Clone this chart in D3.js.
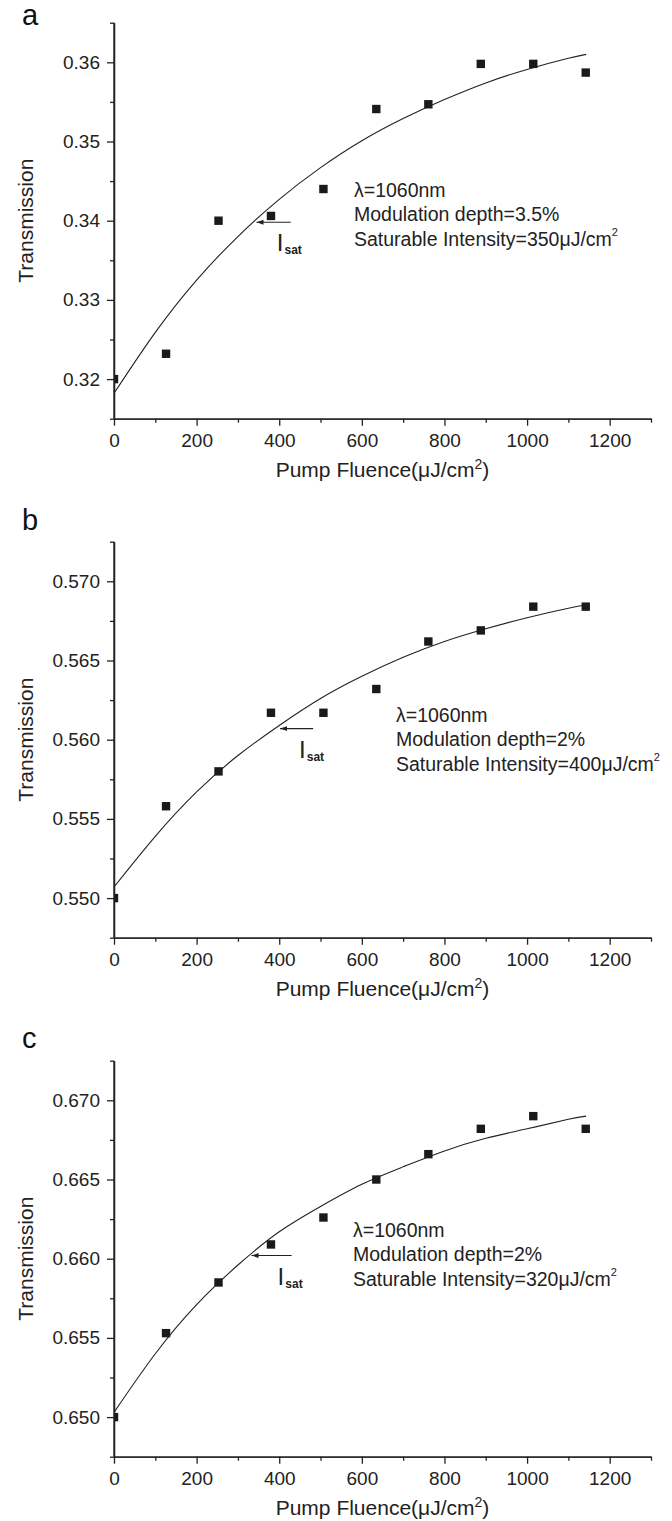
<!DOCTYPE html>
<html>
<head>
<meta charset="utf-8">
<script src="https://cdn.jsdelivr.net/npm/d3@7"></script>
<style>
  body { margin: 0; background: #fff; }
  svg { display: block; font-family: "Liberation Sans", Arial, sans-serif; }
</style>
</head>
<body>
<svg id="chart" width="672" height="1521"></svg>
<script>
// measured points (pump fluence, uJ/cm^2)
const fluence = [0, 126, 253, 380, 507, 635, 761, 888, 1015, 1142];
const transA = [0.3200, 0.3232, 0.3400, 0.3406, 0.3440, 0.3541, 0.3547, 0.3598, 0.3598, 0.3587];
const transB = [0.5500, 0.5558, 0.5580, 0.5617, 0.5617, 0.5632, 0.5662, 0.5669, 0.5684, 0.5684];
const transC = [0.6500, 0.6553, 0.6585, 0.6609, 0.6626, 0.6650, 0.6666, 0.6682, 0.6690, 0.6682];

// fitted curves
const fitX = [0, 100, 200, 300, 400, 500, 600, 700, 800, 900, 1000, 1100, 1143];
const fitA = [0.3182, 0.3259, 0.3325, 0.3380, 0.3427, 0.3467, 0.3501, 0.3529, 0.3553, 0.3574, 0.3591, 0.3605, 0.3610];
const fitB = [0.5507, 0.5539, 0.5567, 0.5590, 0.5609, 0.5626, 0.5640, 0.5652, 0.5662, 0.5670, 0.5677, 0.5683, 0.5685];
const fitC = [0.6503, 0.6540, 0.6571, 0.6596, 0.6617, 0.6633, 0.6647, 0.6658, 0.6668, 0.6676, 0.6682, 0.6688, 0.6690];

const panelNames = ["a", "b", "c"];
const yDomains = [[0.315, 0.365], [0.5475, 0.5725], [0.6475, 0.6725]];
const yMajor = [
  [0.32, 0.33, 0.34, 0.35, 0.36],
  [0.550, 0.555, 0.560, 0.565, 0.570],
  [0.650, 0.655, 0.660, 0.665, 0.670]
];
const yMinor = [
  [0.315, 0.325, 0.335, 0.345, 0.355, 0.365],
  [0.5475, 0.5525, 0.5575, 0.5625, 0.5675, 0.5725],
  [0.6475, 0.6525, 0.6575, 0.6625, 0.6675, 0.6725]
];
const yFormats = [".2f", ".3f", ".3f"];
const xMajor = [0, 200, 400, 600, 800, 1000, 1200];
const xMinor = [100, 300, 500, 700, 900, 1100, 1300];

const wavelength = ["1060nm", "1060nm", "1060nm"];
const modDepth = ["3.5%", "2%", "2%"];
const satIntensity = ["350", "400", "320"];

// I_sat arrows (fluence of tip / tail, transmission level)
const arrowTip = [345, 402, 333];
const arrowTail = [428, 482, 430];
const arrowLevel = [0.3398, 0.5607, 0.6602];

const panels = [
  { dots: transA, fit: fitA },
  { dots: transB, fit: fitB },
  { dots: transC, fit: fitC }
];

// layout
const left = 114, right = 651, plotH = 396;
const tops = [22.7, 541.7, 1060.7];
const letterY = [25, 530, 1048];
const legendX = [354, 396, 353];
const legendY = [174, 180, 176];

const svg = d3.select("#chart");
const ink = "#222";

const x = d3.scaleLinear().domain([0, 1300]).range([left, right]);

svg.append("defs").append("marker")
  .attr("id", "head")
  .attr("markerUnits", "userSpaceOnUse")
  .attr("markerWidth", 8).attr("markerHeight", 6)
  .attr("refX", 7).attr("refY", 3)
  .attr("orient", "auto")
  .append("path")
  .attr("d", "M0,0.5L7,3L0,5.5Z")
  .attr("fill", ink);

panels.forEach((p, i) => {
  const top = tops[i];
  const bottom = top + plotH;
  const y = d3.scaleLinear().domain(yDomains[i]).range([bottom, top]);
  const g = svg.append("g");

  g.append("clipPath").attr("id", "clip" + i)
    .append("rect")
    .attr("x", left).attr("y", top - 6)
    .attr("width", right - left).attr("height", plotH + 6);

  // minor ticks
  g.append("g")
    .attr("transform", `translate(0,${bottom})`)
    .call(d3.axisBottom(x).tickValues(xMinor).tickSize(4).tickSizeOuter(0).tickFormat(""));
  g.append("g")
    .attr("transform", `translate(${left},0)`)
    .call(d3.axisLeft(y).tickValues(yMinor[i]).tickSize(4).tickSizeOuter(0).tickFormat(""));

  // major ticks + labels
  g.append("g")
    .attr("transform", `translate(0,${bottom})`)
    .call(d3.axisBottom(x).tickValues(xMajor).tickSize(7).tickSizeOuter(0).tickPadding(7.5).tickFormat(d3.format("d")));
  g.append("g")
    .attr("transform", `translate(${left},0)`)
    .call(d3.axisLeft(y).tickValues(yMajor[i]).tickSize(7).tickSizeOuter(0).tickPadding(7).tickFormat(d3.format(yFormats[i])));

  g.selectAll(".domain, .tick line").attr("stroke", ink).attr("stroke-width", 1.3);
  g.selectAll(".tick text")
    .attr("fill", ink)
    .style("font-size", "19px")
    .style("font-family", "'Liberation Sans', Arial, sans-serif");

  // fitted curve
  g.append("path")
    .datum(fitX.map((f, k) => [f, p.fit[k]]))
    .attr("fill", "none")
    .attr("stroke", ink)
    .attr("stroke-width", 1.1)
    .attr("clip-path", `url(#clip${i})`)
    .attr("d", d3.line().x(d => x(d[0])).y(d => y(d[1])).curve(d3.curveNatural));

  // measured points
  g.append("g").attr("clip-path", `url(#clip${i})`)
    .selectAll("rect")
    .data(fluence.map((f, k) => [f, p.dots[k]]))
    .join("rect")
    .attr("x", d => x(d[0]) - 4.2)
    .attr("y", d => y(d[1]) - 4.2)
    .attr("width", 8.4).attr("height", 8.4)
    .attr("fill", "#1a1a1a");

  // redraw y axis line above the clipped markers
  g.append("line")
    .attr("x1", left).attr("x2", left)
    .attr("y1", top).attr("y2", bottom)
    .attr("stroke", ink).attr("stroke-width", 1.3);

  // I_sat arrow
  const ay = y(arrowLevel[i]);
  const tailX = x(arrowTail[i]);
  g.append("line")
    .attr("x1", tailX).attr("y1", ay)
    .attr("x2", x(arrowTip[i])).attr("y2", ay)
    .attr("stroke", ink).attr("stroke-width", 1.1)
    .attr("marker-end", "url(#head)");
  const isat = g.append("text")
    .attr("x", tailX - 14)
    .attr("y", ay + 29)
    .attr("fill", ink)
    .style("font-size", "24px")
    .text("I");
  isat.append("tspan")
    .attr("dy", 3)
    .attr("dx", 1)
    .style("font-size", "12px")
    .style("font-weight", "bold")
    .text("sat");

  // legend text
  const lx = legendX[i], ly = top + legendY[i];
  const leg = g.append("g").attr("fill", ink).style("font-size", "19.5px");
  leg.append("text").attr("x", lx).attr("y", ly).text("λ=" + wavelength[i]);
  leg.append("text").attr("x", lx).attr("y", ly + 24.5).text("Modulation depth=" + modDepth[i]);
  const sat = leg.append("text").attr("x", lx).attr("y", ly + 49.5)
    .text("Saturable Intensity=" + satIntensity[i] + "μJ/cm");
  sat.append("tspan").attr("dy", -10).style("font-size", "11px").text("2");

  // axis titles
  const xt = g.append("text")
    .attr("x", (left + right) / 2)
    .attr("y", bottom + 58)
    .attr("text-anchor", "middle")
    .attr("fill", ink)
    .style("font-size", "21px")
    .text("Pump Fluence(μJ/cm");
  xt.append("tspan").attr("dy", -8).style("font-size", "14px").text("2");
  xt.append("tspan").attr("dy", 8).text(")");

  g.append("text")
    .attr("transform", `translate(33,${(top + bottom) / 2}) rotate(-90)`)
    .attr("text-anchor", "middle")
    .attr("fill", ink)
    .style("font-size", "21px")
    .text("Transmission");

  // panel letter
  g.append("text")
    .attr("x", 22)
    .attr("y", letterY[i])
    .attr("fill", "#111")
    .style("font-size", "29px")
    .text(panelNames[i]);
});
</script>
</body>
</html>
